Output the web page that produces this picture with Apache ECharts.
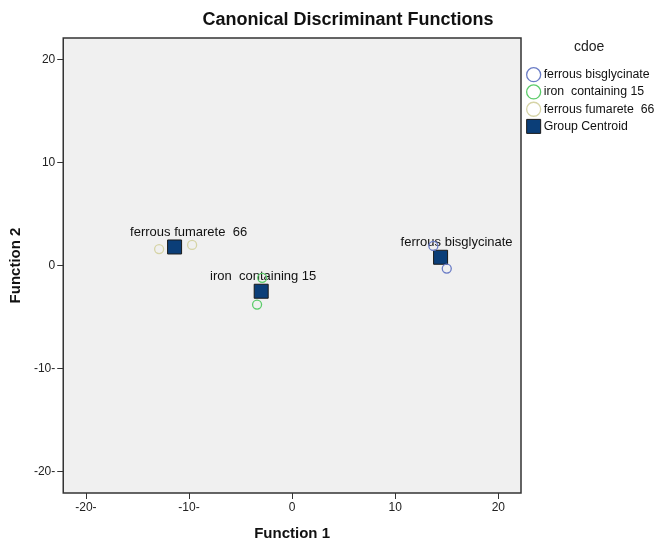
<!DOCTYPE html>
<html><head><meta charset="utf-8">
<script src="https://cdn.jsdelivr.net/npm/echarts@6/dist/echarts.min.js"></script>
<style>html,body{margin:0;padding:0;background:#fff}#c{width:660px;height:546px}</style>
</head><body><div id="c"></div>
<script>
const tickValues = [-20, -10, 0, 10, 20];
const xTickLabels = ['-20-', '-10-', '0', '10', '20'];
const yTickLabels = ['-20-', '-10-', '0', '10', '20'];

const groupNames = ['ferrous bisglycinate', 'iron  containing 15', 'ferrous fumarete  66'];
const bisX = [13.7, 15.0];
const bisY = [1.9, -0.3];
const ironX = [-2.9, -3.4];
const ironY = [-1.2, -3.8];
const fumX = [-12.9, -9.7];
const fumY = [1.6, 2.0];
const centroidX = [14.4, -3.0, -11.4];
const centroidY = [0.8, -2.5, 1.8];
const centroidLabels = ['ferrous bisglycinate', 'iron  containing 15', 'ferrous fumarete  66'];
const labelOffsets = [[16, 0], [2, 0], [14, 0]];

const colors = ['#6a7cc6', '#5ccc6a', '#d6d4a6'];
const FONT = 'Liberation Sans';

function pairs(xs, ys) { return xs.map((x, i) => [x, ys[i]]); }
function fmt(labels) { return v => { const i = tickValues.indexOf(Math.round(v)); return i >= 0 ? labels[i] : ''; }; }

const groupSeries = [[bisX, bisY], [ironX, ironY], [fumX, fumY]].map((d, i) => ({
  name: groupNames[i], type: 'scatter', symbol: 'circle', symbolSize: 9,
  itemStyle: { color: 'rgba(0,0,0,0)', borderColor: colors[i], borderWidth: 1.3, opacity: 1 },
  data: pairs(d[0], d[1]), z: 3
}));

const centroidSeries = {
  name: 'Group Centroid', type: 'scatter', symbol: 'rect', symbolSize: 14,
  itemStyle: { color: '#0b3e78', borderColor: '#1a1a1a', borderWidth: 1, opacity: 1 },
  data: centroidX.map((x, i) => ({
    value: [x, centroidY[i]],
    label: { show: true, position: 'top', distance: 1, offset: labelOffsets[i], formatter: centroidLabels[i],
      color: '#111', fontFamily: FONT, fontSize: 13, opacity: 1 }
  })), z: 2
};

const chart = echarts.init(document.getElementById('c'), null, { renderer: 'canvas' });
chart.setOption({
  animation: false,
  backgroundColor: '#fff',
  title: { text: 'Canonical Discriminant Functions', left: 343, top: 6, textAlign: 'center',
    textStyle: { fontFamily: FONT, fontWeight: 'bold', fontSize: 18, color: '#111' } },
  graphic: [{ type: 'text', left: 574, top: 40, style: { text: 'cdoe', font: '14px "Liberation Sans"', fill: '#222' } }],
  legend: {
    orient: 'vertical', left: 521, top: 62, itemGap: 2, itemWidth: 14, itemHeight: 14,
    textStyle: { fontFamily: FONT, fontSize: 12.3, color: '#111', padding: [0, 0, 0, -2] },
    data: [
      { name: groupNames[0], icon: 'circle', itemStyle: { color: 'rgba(0,0,0,0)', borderColor: colors[0], borderWidth: 1.3 } },
      { name: groupNames[1], icon: 'circle', itemStyle: { color: 'rgba(0,0,0,0)', borderColor: colors[1], borderWidth: 1.3 } },
      { name: groupNames[2], icon: 'circle', itemStyle: { color: 'rgba(0,0,0,0)', borderColor: colors[2], borderWidth: 1.3 } },
      { name: 'Group Centroid', icon: 'rect', itemStyle: { color: '#0b3e78', borderColor: '#1a1a1a', borderWidth: 1, opacity: 1 } }
    ]
  },
  grid: { left: 63, right: 139, top: 38, bottom: 53, show: true, backgroundColor: '#f0f0f0', borderColor: '#333', borderWidth: 1.5 },
  xAxis: {
    type: 'value', min: -22.2, max: 22.2,
    name: 'Function 1', nameLocation: 'middle', nameGap: 33,
    nameTextStyle: { fontFamily: FONT, fontWeight: 'bold', fontSize: 15, color: '#111' },
    axisLine: { show: false, onZero: false }, splitLine: { show: false },
    axisTick: { show: true, length: 6, lineStyle: { color: '#333' }, customValues: tickValues },
    axisLabel: { fontFamily: FONT, fontSize: 12, color: '#222', margin: 9, customValues: tickValues, formatter: fmt(xTickLabels) }
  },
  yAxis: {
    type: 'value', min: -22.1, max: 22.1,
    name: 'Function 2', nameLocation: 'middle', nameGap: 38, nameRotate: 90,
    nameTextStyle: { fontFamily: FONT, fontWeight: 'bold', fontSize: 15, color: '#111' },
    axisLine: { show: false, onZero: false }, splitLine: { show: false },
    axisTick: { show: true, length: 6, lineStyle: { color: '#333' }, customValues: tickValues },
    axisLabel: { fontFamily: FONT, fontSize: 12, color: '#222', margin: 8, customValues: tickValues, formatter: fmt(yTickLabels) }
  },
  series: [...groupSeries, centroidSeries]
});
</script></body></html>
